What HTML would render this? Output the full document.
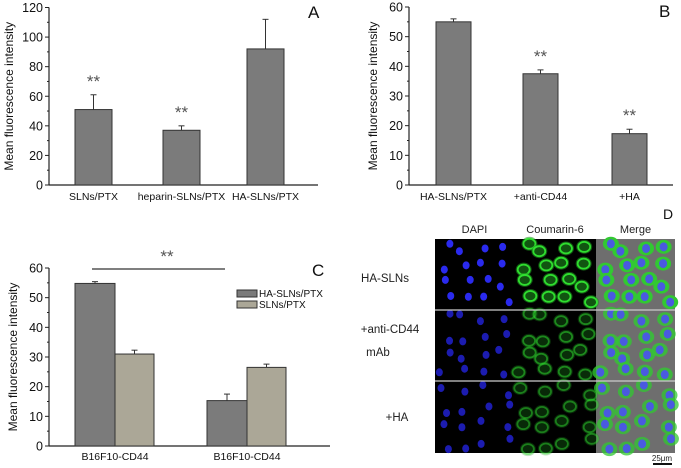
<!DOCTYPE html>
<html><head><meta charset="utf-8"><style>
body{margin:0;background:#fff}
svg{display:block;font-family:"Liberation Sans",Arial,sans-serif}
</style></head><body>
<svg id="fig" width="681" height="468" viewBox="0 0 681 468"></svg>
<script>
// Panel A data
const aCats=["SLNs/PTX","heparin-SLNs/PTX","HA-SLNs/PTX"];
const aVals=[51,37,92];
const aErr=[10,3,20];
const aStars=[true,true,false];
const aTicks=[0,20,40,60,80,100,120];
// Panel B data
const bCats=["HA-SLNs/PTX","+anti-CD44","+HA"];
const bVals=[55,37.5,17.3];
const bErr=[1,1.3,1.5];
const bStars=[false,true,true];
const bTicks=[0,10,20,30,40,50,60];
// Panel C data
const cCats=["B16F10-CD44","B16F10-CD44"];
const cSeries=["HA-SLNs/PTX","SLNs/PTX"];
const cVals1=[54.8,15.3];
const cVals2=[31,26.5];
const cErr1=[0.6,2.2];
const cErr2=[1.3,1.1];
const cTicks=[0,10,20,30,40,50,60];

const NS="http://www.w3.org/2000/svg";
const svg=document.getElementById('fig');
function el(tag,attrs,parent,text){const e=document.createElementNS(NS,tag);for(const k in attrs)e.setAttribute(k,attrs[k]);if(text!==undefined)e.textContent=text;(parent||svg).appendChild(e);return e;}

function axes(g,x0,x1,y0,y1,max,ticks,title,ty){
  const sy=v=>y0-(v/max)*(y0-y1);
  let a=el('line',{x1:x0,y1:y0,x2:x1,y2:y0,stroke:'#222','stroke-width':1.2},g);
  
  a=el('line',{x1:x0,y1:y0,x2:x0,y2:y1,stroke:'#222','stroke-width':1.2},g);
  
  ticks.forEach((t,i)=>{
    const y=sy(t);
    el('line',{x1:x0-4,y1:y,x2:x0,y2:y,stroke:'#222'},g);
    if(i<ticks.length-1){const ym=sy(t+(ticks[1]-ticks[0])/2);el('line',{x1:x0-2,y1:ym,x2:x0,y2:ym,stroke:'#222'},g);}
    const tl=el('text',{x:x0-6,y:y+4.5,'text-anchor':'end','font-size':12.5,fill:'#111'},g,String(t));
    
  });
  const tt=el('text',{x:ty,y:(y0+y1)/2,'text-anchor':'middle','font-size':12,fill:'#111',transform:`rotate(-90 ${ty} ${(y0+y1)/2})`},g,title);
  
  return sy;
}
function bar(g,x,w,v,err,sy,fill,name){
  const r=el('rect',{x:x,y:sy(v),width:w,height:sy(0)-sy(v),fill:fill,stroke:'#333','stroke-width':1},g);
  
  const cx=x+w/2;
  el('line',{x1:cx,y1:sy(v),x2:cx,y2:sy(v+err),stroke:'#333'},g);
  el('line',{x1:cx-3,y1:sy(v+err),x2:cx+3,y2:sy(v+err),stroke:'#333'},g);
}
function stars(g,x,y){const s=el('text',{x:x,y:y,'text-anchor':'middle','font-size':17,fill:'#555'},g,'**');}

// Panel A
{const g=el('g',{});
 const sy=axes(g,49,318,185,7.5,120,aTicks,'Mean fluorescence intensity',13);
 const xs=[75,163,247];
 aCats.forEach((c,i)=>{bar(g,xs[i],37,aVals[i],aErr[i],sy,'#7b7b7b','bar-'+i);
   const l=el('text',{x:xs[i]+18.5,y:200,'text-anchor':'middle','font-size':10.5,fill:'#111'},g,c);
   if(aStars[i])stars(g,xs[i]+18.5,sy(aVals[i]+aErr[i])-8);});
 const L=el('text',{x:308,y:18,'font-size':17,fill:'#111'},g,'A');}
// Panel B
{const g=el('g',{});
 const sy=axes(g,409,673,185,7,60,bTicks,'Mean fluorescence intensity',377);
 const xs=[436,523,612];
 bCats.forEach((c,i)=>{bar(g,xs[i],35,bVals[i],bErr[i],sy,'#7b7b7b','bar-'+i);
   const l=el('text',{x:xs[i]+17.5,y:200,'text-anchor':'middle','font-size':10.5,fill:'#111'},g,c);
   if(bStars[i])stars(g,xs[i]+17.5,sy(bVals[i]+bErr[i])-8);});
 const L=el('text',{x:659,y:17,'font-size':17,fill:'#111'},g,'B');}
// Panel C
{const g=el('g',{});
 const sy=axes(g,49,330,446,268,60,cTicks,'Mean fluorescence intensity',17);
 const xs=[75,207];
 cCats.forEach((c,i)=>{bar(g,xs[i],40,cVals1[i],cErr1[i],sy,'#7b7b7b','bar-ha-'+i);
   bar(g,xs[i]+40,39,cVals2[i],cErr2[i],sy,'#aba797','bar-sln-'+i);
   const l=el('text',{x:xs[i]+40,y:460,'text-anchor':'middle','font-size':10.5,fill:'#111'},g,c);});
 el('line',{x1:92,y1:269,x2:225,y2:269,stroke:'#333','stroke-width':1.2},g);
 stars(g,167,262);
 const cols=['#7b7b7b','#aba797'];
 cSeries.forEach((s,i)=>{const r=el('rect',{x:237,y:290+i*11,width:20,height:7,fill:cols[i],stroke:'#333'},g);
   const t=el('text',{x:259,y:297+i*11,'font-size':10,fill:'#111'},g,s);});
 const L=el('text',{x:312,y:276,'font-size':17,fill:'#111'},g,'C');}
// Panel D (micrographs)
{const g=el('g',{});
 const X=[435,514,596,675],Y=[239,310,381,453];
 el('rect',{x:435,y:239,width:161,height:214,fill:'#000'},g);
 el('rect',{x:596,y:239,width:79,height:214,fill:'#6e6e6e'},g);
 const heads=['DAPI','Coumarin-6','Merge'];
 heads.forEach((h,i)=>{const t=el('text',{x:(X[i]+X[i+1])/2,y:233,'text-anchor':'middle','font-size':11,fill:'#222'},g,h);});
 const gBright=[0.95,0.5,0.45];
 function h(n){const s=Math.sin(n*12.9898)*43758.5453;return s-Math.floor(s);}
 for(let r=0;r<3;r++){
  let k=0;
  for(let gy=0;gy<4;gy++)for(let gx=0;gx<4;gx++){
    k++;const fx=(gx+0.2+h(r*100+k)*0.6)/4,fy=(gy+0.2+h(r*100+k+50)*0.6)/4;
    for(let c=0;c<3;c++){
      const cx=X[c]+fx*(X[c+1]-X[c]),cy=Y[r]+fy*(Y[r+1]-Y[r]);
      if(c===0)el('ellipse',{cx:cx,cy:cy,rx:3.5,ry:4,fill:r===0?'#2a2aee':'#1c1cb0'},g);
      else if(c===1){el('ellipse',{cx:cx,cy:cy,rx:8,ry:7,fill:`rgba(30,150,30,${gBright[r]*0.6})`},g);el('ellipse',{cx:cx,cy:cy,rx:6,ry:5,fill:'none',stroke:`rgba(50,230,50,${gBright[r]})`,'stroke-width':1.8},g);}
      else{el('ellipse',{cx:cx,cy:cy,rx:8,ry:7,fill:`rgba(50,200,50,${gBright[r]+0.3})`},g);el('ellipse',{cx:cx,cy:cy,rx:4,ry:4.5,fill:'#4a5ae0'},g);}
    }
  }
 }
 el('line',{x1:435,y1:310,x2:675,y2:310,stroke:'#ccc','stroke-width':1.2},g);
 el('line',{x1:435,y1:381,x2:675,y2:381,stroke:'#ccc','stroke-width':1.2},g);
 const rl=[['HA-SLNs',385,282],['+anti-CD44',390,333],['mAb',378,356],['+HA',397,421]];
 rl.forEach(a=>{const t=el('text',{x:a[1],y:a[2],'text-anchor':'middle','font-size':11.5,fill:'#222'},g,a[0]);});
 const sb=el('text',{x:662,y:461,'text-anchor':'middle','font-size':8,fill:'#222'},g,'25μm');
 el('line',{x1:653,y1:464,x2:672,y2:464,stroke:'#111','stroke-width':2},g);
 const L=el('text',{x:663,y:219,'font-size':14,fill:'#111'},g,'D');}
</script>
</body></html>
